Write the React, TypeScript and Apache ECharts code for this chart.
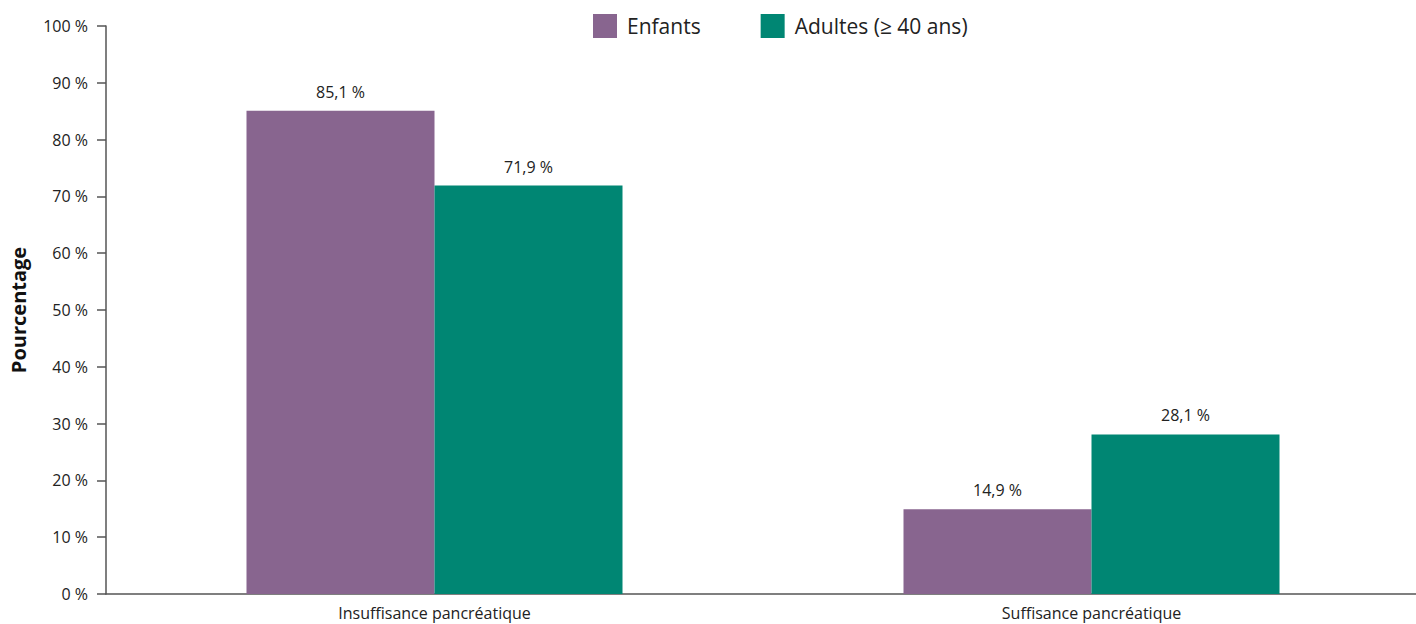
import React, { useEffect, useRef } from "react";
import * as echarts from "echarts";

const categories = ["Insuffisance pancréatique", "Suffisance pancréatique"];
const seriesNames = ["Enfants", "Adultes (≥ 40 ans)"];
const enfants = [85.1, 14.9];
const adultes = [71.9, 28.1];
const colors = ["#88658f", "#008673"];
const font = "'Open Sans', 'Noto Sans', sans-serif";

const fmt = (v: number) => v.toFixed(1).replace(".", ",") + " %";

export default function App() {
  const ref = useRef<HTMLDivElement>(null);
  useEffect(() => {
    const chart = echarts.init(ref.current!, null, { renderer: "svg" });
    const mk = (name: string, data: number[], color: string) => ({
      name,
      type: "bar",
      data,
      barWidth: 188,
      barGap: "0%",
      itemStyle: { color },
      label: {
        show: true,
        position: "top",
        distance: 11,
        formatter: (p: any) => fmt(p.value),
        color: "#222",
        fontSize: 16,
        fontFamily: font,
      },
    });
    chart.setOption({
      animation: false,
      textStyle: { fontFamily: font },
      legend: {
        left: 588,
        top: 9,
        itemWidth: 24,
        itemHeight: 24,
        itemGap: 60,
        icon: "rect",
        textStyle: { fontSize: 21, color: "#222", fontFamily: font, padding: [0, 0, 0, 5] },
        data: seriesNames,
      },
      grid: { left: 106, right: -4, top: 26, bottom: 30, containLabel: false, outerBoundsMode: "none" },
      xAxis: {
        type: "category",
        data: categories,
        axisLine: { lineStyle: { color: "#555", width: 1.5 } },
        axisTick: { show: false },
        axisLabel: { color: "#222", fontSize: 16, margin: 11, fontFamily: font },
      },
      yAxis: {
        type: "value",
        min: 0,
        max: 100,
        interval: 10,
        name: "Pourcentage",
        nameLocation: "middle",
        nameGap: 78,
        nameRotate: 90,
        nameTextStyle: { fontSize: 20, fontWeight: "bold", color: "#111", fontFamily: font },
        axisLine: { show: true, lineStyle: { color: "#555", width: 1.5 } },
        axisTick: { show: true, length: 9, lineStyle: { color: "#555", width: 1.5 } },
        splitLine: { show: false },
        axisLabel: {
          color: "#222",
          fontSize: 16,
          margin: 18,
          fontFamily: font,
          formatter: (v: number) => v + " %",
        },
      },
      series: [mk(seriesNames[0], enfants, colors[0]), mk(seriesNames[1], adultes, colors[1])],
    });
    return () => chart.dispose();
  }, []);
  return (
    <div
      ref={ref}
      style={{ position: "fixed", left: 0, top: 0, width: 1416, height: 624, background: "#fff" }}
    />
  );
}
